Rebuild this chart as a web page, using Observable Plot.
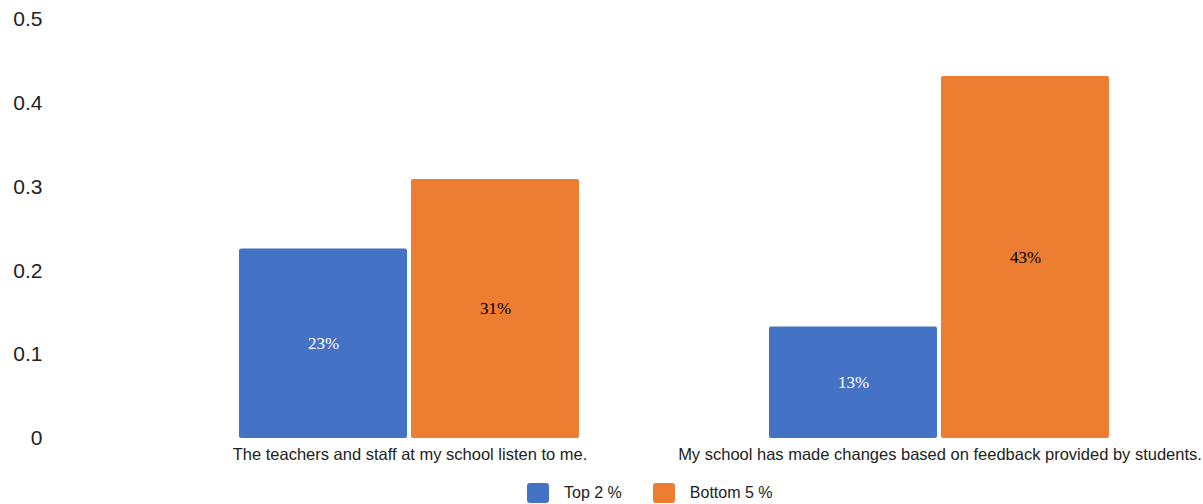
<!DOCTYPE html>
<html>
<head>
<meta charset="utf-8">
<script src="https://cdn.jsdelivr.net/npm/d3@7"></script>
<script src="https://cdn.jsdelivr.net/npm/@observablehq/plot@0.6"></script>
<style>
  body { margin: 0; background: #fff; font-family: "Liberation Sans", Arial, sans-serif; }
  #legend { display: flex; align-items: center; height: 34px; padding-top: 0; margin-left: 527px; font-size: 16px; color: #222; box-sizing: border-box; }
  #chart { height: 476px; overflow: hidden; }
  .item { display: flex; align-items: center; margin-right: 31px; }
  .sw { width: 22px; height: 20px; border-radius: 3px; margin-right: 15px; }
</style>
</head>
<body>
<div id="chart"></div>
<div id="legend"></div>
<script>
const categories = [
  "The teachers and staff at my school listen to me.",
  "My school has made changes based on feedback provided by students."
];
const series = ["Top 2 %", "Bottom 5 %"];
const top2 = [0.226, 0.133];
const bottom5 = [0.309, 0.432];
const colors = ["#4472C4", "#ED7D31"];
const yTicks = [0, 0.1, 0.2, 0.3, 0.4, 0.5];

const data = categories.flatMap((c, i) => [
  {category: c, series: series[0], value: top2[i]},
  {category: c, series: series[1], value: bottom5[i]}
]);
const pct = d => `${Math.round(d.value * 100)}%`;

const chart = Plot.plot({
  width: 1203,
  height: 470,
  marginLeft: 50,
  marginRight: 0,
  marginTop: 19,
  marginBottom: 32,
  style: {fontFamily: "'Liberation Sans', Arial, sans-serif", color: "#222", background: "#fff"},
  fx: {domain: categories, paddingInner: 0.357, paddingOuter: 0.266, align: 0.6706, label: null, axis: null},
  x: {domain: series, axis: null, paddingInner: 0.0232, paddingOuter: 0},
  y: {domain: [0, 0.5], axis: null},
  color: {domain: series, range: colors},
  marks: [
    Plot.axisY({ticks: yTicks, tickSize: 0, tickPadding: 7, dx: -190, label: null, fontSize: 21,
      tickFormat: d => d === 0 ? "0" : d3.format(".1f")(d)}),
    Plot.axisFx({anchor: "bottom", tickSize: 0, tickPadding: 10, label: null, fontSize: 16.5}),
    Plot.barY(data, {fx: "category", x: "series", y: "value", fill: "series", rx: 2}),
    Plot.text(data.filter(d => d.series === series[0]), {fx: "category", x: "series", y: d => d.value / 2, text: pct,
      fill: "white", fontSize: 17, fontFamily: "'Liberation Serif', 'Times New Roman', serif"}),
    Plot.text(data.filter(d => d.series === series[1]), {fx: "category", x: "series", y: d => d.value / 2, text: pct,
      fill: "black", fontSize: 17, fontFamily: "'Liberation Serif', 'Times New Roman', serif"})
  ]
});
document.getElementById("chart").appendChild(chart);

const legend = document.getElementById("legend");
series.forEach((s, i) => {
  const item = document.createElement("div");
  item.className = "item";
  const sw = document.createElement("div");
  sw.className = "sw";
  sw.style.background = colors[i];
  const label = document.createElement("span");
  label.textContent = s;
  item.appendChild(sw);
  item.appendChild(label);
  legend.appendChild(item);
});
</script>
</body>
</html>
